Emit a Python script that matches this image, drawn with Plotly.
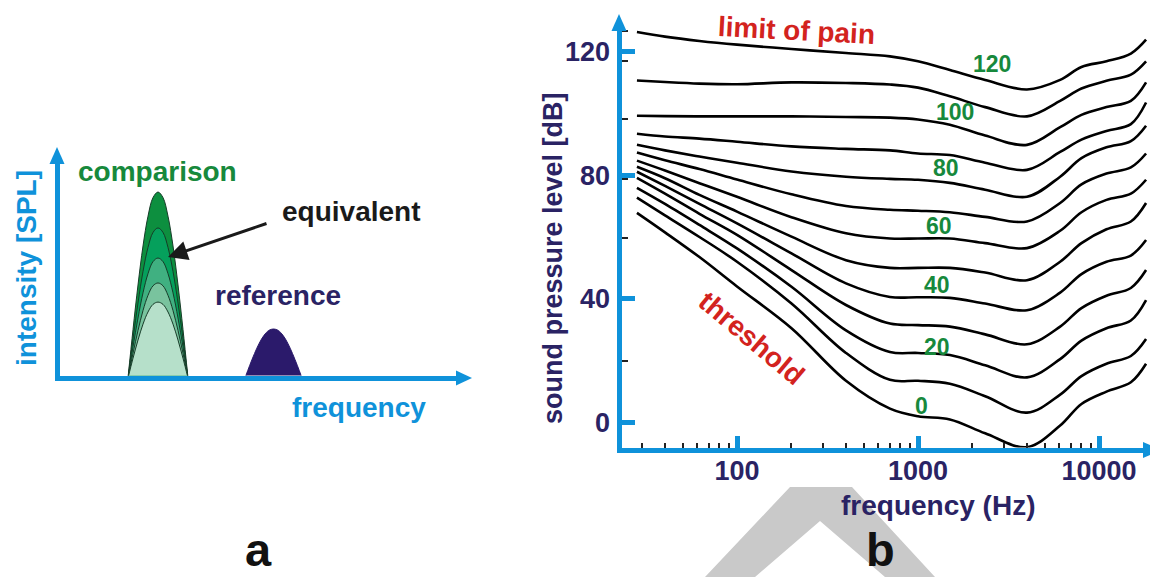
import math
import plotly.graph_objects as go

W, H = 1150, 577
FONT = "Liberation Sans, Arial, sans-serif"
BLUE = "#0f92da"
NAVY = "#2a2364"
GREEN = "#17893c"
RED = "#d3231e"

# ---------------- panel a data ----------------
bump_profile = [0, 0.26, 0.5, 0.71, 0.87, 0.97, 1.0, 0.97, 0.87, 0.71, 0.5, 0.26, 0]
comparison_span = [17.75, 32.75]
comparison_heights = [86.5, 69.8, 55.8, 44.2, 35.3]
comparison_colors = ["#0d8f3f", "#05a05c", "#40b081", "#79c39e", "#b6e0ca"]
reference_span = [47.0, 61.25]
reference_height = 22.8

# ---------------- panel b data ----------------
freq_hz = [28, 40, 62, 100, 200, 400, 700, 1000, 1500, 2350, 4000, 6100, 8000, 11000, 15000, 18200]
phon_120 = [126.3, 124.8, 123.4, 122.2, 120.8, 119.5, 118.4, 116.8, 114.0, 110.8, 107.7, 110.8, 115.0, 116.8, 119.3, 123.8]
phon_110 = [110.6, 110.1, 109.6, 109.4, 110.0, 109.8, 109.3, 108.3, 105.5, 102.0, 99.0, 104.0, 108.0, 110.5, 112.5, 116.8]
phon_100 = [99.2, 99.1, 99.0, 99.0, 99.0, 98.8, 98.6, 98.0, 96.3, 92.8, 89.8, 95.5, 99.5, 102.0, 104.0, 110.0]
phon_90 = [93.4, 92.5, 91.8, 90.8, 89.3, 88.5, 88.0, 87.0, 86.5, 84.0, 81.7, 87.5, 91.5, 94.3, 96.5, 103.5]
phon_80 = [89.8, 88.0, 86.0, 84.0, 81.2, 79.5, 78.8, 78.5, 77.5, 75.3, 73.0, 79.5, 85.5, 89.0, 91.0, 96.0]
phon_70 = [87.3, 84.8, 82.0, 78.6, 73.8, 70.0, 68.8, 68.5, 68.0, 66.5, 65.0, 71.0, 77.0, 80.5, 82.5, 87.0]
phon_60 = [84.7, 81.5, 77.4, 73.0, 66.4, 61.2, 59.5, 59.5, 59.5, 58.0, 56.4, 62.0, 68.0, 72.0, 74.0, 78.5]
phon_50 = [82.7, 79.0, 73.6, 68.2, 60.1, 52.5, 50.0, 50.0, 50.0, 48.5, 46.0, 52.0, 58.0, 62.5, 65.0, 71.0]
phon_40 = [81.1, 76.5, 70.7, 64.4, 54.7, 45.0, 40.6, 40.5, 40.3, 38.5, 36.3, 42.0, 48.0, 52.0, 54.0, 59.0]
phon_30 = [79.1, 74.0, 67.5, 60.7, 49.3, 38.0, 32.0, 31.5, 31.0, 28.5, 25.3, 31.0, 37.0, 41.0, 43.5, 49.3]
phon_20 = [75.9, 70.7, 63.9, 56.3, 43.9, 29.8, 22.8, 22.5, 21.8, 18.5, 14.6, 20.5, 26.5, 30.5, 33.0, 39.6]
phon_10 = [72.7, 67.0, 60.0, 52.0, 38.5, 22.5, 13.8, 13.5, 12.5, 8.5, 3.2, 9.0, 15.0, 19.0, 21.5, 27.0]
phon_0 = [67.8, 61.5, 53.5, 44.0, 30.5, 13.5, 4.5, 2.0, 1.0, -3.5, -8.0, -1.0, 6.0, 10.0, 13.0, 19.0]
curves = [phon_120, phon_110, phon_100, phon_90, phon_80, phon_70, phon_60,
          phon_50, phon_40, phon_30, phon_20, phon_10, phon_0]

label_text = ["120", "100", "80", "60", "40", "20", "0"]
label_freq = [2550, 1600, 1420, 1300, 1270, 1270, 1050]
label_db = [115.8, 100.5, 82.4, 63.5, 44.5, 24.3, 5.2]

y_tick_vals = [0, 40, 80, 120]
y_scan_ticks = [126.5, 117.0, 98.3, 78.8, 59.7, 19.8]
x_tick_vals = [100, 1000, 10000]
x_minor_vals = [30, 40, 50, 60, 70, 80, 90, 200, 300, 400, 500, 600, 700, 800, 900,
                2000, 3000, 4000, 5000, 6000, 7000, 8000, 9000]


def px(x):
    return x / W


def py(y):
    return 1 - y / H


fig = go.Figure()

# panel a bumps
n = len(bump_profile) - 1
xs_c = [comparison_span[0] + i * (comparison_span[1] - comparison_span[0]) / n for i in range(n + 1)]
for h, c in zip(comparison_heights, comparison_colors):
    fig.add_trace(go.Scatter(
        x=xs_c, y=[p * h for p in bump_profile], mode="lines", fill="toself",
        fillcolor=c, line=dict(color="#173b28", width=1, shape="spline"),
        hoverinfo="skip", showlegend=False, xaxis="x", yaxis="y"))
xs_r = [reference_span[0] + i * (reference_span[1] - reference_span[0]) / n for i in range(n + 1)]
fig.add_trace(go.Scatter(
    x=xs_r, y=[p * reference_height for p in bump_profile], mode="lines", fill="toself",
    fillcolor="#2b1a6b", line=dict(color="#2b1a6b", width=1, shape="spline"),
    hoverinfo="skip", showlegend=False, xaxis="x", yaxis="y"))

# panel b curves
for cv in curves:
    fig.add_trace(go.Scatter(
        x=freq_hz, y=cv, mode="lines",
        line=dict(color="black", width=2.6, shape="spline", smoothing=1.0),
        hoverinfo="skip", showlegend=False, xaxis="x2", yaxis="y2"))

# ---- axis geometry (pixel mapping) ----
# panel b: x_px = 737 + 181*log10(f/100); y_px = 422.5 - 3.092*dB
bx0, bx1 = 621.5, 1150.0
by0, by1 = 447.5, 28.0
xr = [2 + (bx0 - 737) / 181, 2 + (bx1 - 737) / 181]
yr = [(422.5 - by0) / 3.092, (422.5 - by1) / 3.092]
# panel a: x_px = 57 + 4*x ; y_px = 378 - 2.15*y
ax0, ax1 = 59.5, 457.0
ay0, ay1 = 375.5, 163.0
axr = [(ax0 - 57) / 4, (ax1 - 57) / 4]
ayr = [(378 - ay0) / 2.15, (378 - ay1) / 2.15]

annotations = []


def text(t, x, y, size, color, angle=0, xanchor="center", pad=1):
    annotations.append(dict(
        text=t, x=px(x), y=py(y), xref="paper", yref="paper", showarrow=False,
        xanchor=xanchor, yanchor="middle", textangle=angle, borderpad=pad,
        font=dict(family=FONT, size=size, color=color, weight="bold")))


# panel a texts
text("intensity [SPL]", 26, 268, 28, BLUE, angle=-90)
text("comparison", 157, 172, 28, GREEN)
text("equivalent", 351, 211, 28, "#1a1a1a")
text("reference", 278, 295, 28, NAVY)
text("frequency", 359, 407, 28, BLUE)
annotations.append(dict(
    x=px(168), y=py(257), xref="paper", yref="paper", text="", showarrow=True,
    ax=100, ay=-34, arrowhead=2, arrowsize=1.3, arrowwidth=3, arrowcolor="#1a1a1a",
    standoff=0))

# panel b texts
text("sound pressure level [dB]", 553, 258, 27, NAVY, angle=-90)
text("frequency (Hz)", 938, 505, 28, NAVY, pad=0)
text("limit of pain", 796, 30, 28, RED, angle=3)
text("threshold", 752, 338, 28, RED, angle=40)
for t, f, d in zip(label_text, label_freq, label_db):
    annotations.append(dict(
        text=t, x=math.log10(f), y=d, xref="x2", yref="y2", showarrow=False,
        xanchor="center", yanchor="middle",
        font=dict(family=FONT, size=23, color=GREEN, weight="bold")))

text("a", 258, 549, 47, "#111111", pad=0)
text("b", 880, 549, 47, "#111111", pad=0)


def tri(p1, p2, p3, color):
    path = "M {} {} L {} {} L {} {} Z".format(px(p1[0]), py(p1[1]), px(p2[0]), py(p2[1]),
                                              px(p3[0]), py(p3[1]))
    return dict(type="path", path=path, xref="paper", yref="paper",
                fillcolor=color, line=dict(width=0), layer="above")


shapes = [
    # grey watermark chevron
    dict(type="path", xref="paper", yref="paper", layer="below",
         path="M {} {} L {} {} L {} {} L {} {} L {} {} L {} {} L {} {} Z".format(
             px(705), py(577), px(790), py(487), px(852), py(487), px(935), py(577),
             px(885), py(577), px(820), py(521), px(755), py(577)),
         fillcolor="#c9c9c9", line=dict(width=0)),
    # panel a arrowheads
    tri((57, 147), (49.5, 164), (64.5, 164), BLUE),
    tri((472, 378), (456, 370.5), (456, 385.5), BLUE),
    # panel b arrowheads
    tri((619, 14), (611.5, 31), (626.5, 31), BLUE),
    tri((1162, 450), (1143, 442), (1143, 458), BLUE),
]

common = dict(showgrid=False, zeroline=False, fixedrange=True)
fig.update_layout(
    width=W, height=H, autosize=False,
    margin=dict(l=0, r=0, t=0, b=0, pad=0),
    paper_bgcolor="white", plot_bgcolor="rgba(0,0,0,0)",
    showlegend=False,
    xaxis=dict(domain=[px(ax0), px(ax1)], range=axr, anchor="y",
               showline=True, linecolor=BLUE, linewidth=5, showticklabels=False,
               ticks="", **common),
    yaxis=dict(domain=[py(ay0), py(ay1)], range=ayr, anchor="x",
               showline=True, linecolor=BLUE, linewidth=5, showticklabels=False,
               ticks="", **common),
    xaxis2=dict(domain=[px(bx0), px(bx1)], type="log", range=xr, anchor="y2",
                showline=True, linecolor=BLUE, linewidth=5,
                tickmode="array", tickvals=x_tick_vals, ticktext=[str(v) for v in x_tick_vals],
                ticks="inside", ticklen=12, tickwidth=5, tickcolor=BLUE,
                tickfont=dict(family=FONT, size=27, color=NAVY, weight="bold"),
                ticklabelstandoff=-5,
                minor=dict(tickmode="array", tickvals=x_minor_vals, ticks="inside",
                           ticklen=5, tickwidth=1.5, tickcolor="#222222"),
                **common),
    yaxis2=dict(domain=[py(by0), py(by1)], range=yr, anchor="x2",
                showline=True, linecolor=BLUE, linewidth=5,
                tickmode="array", tickvals=y_tick_vals, ticktext=[str(v) for v in y_tick_vals],
                ticks="inside", ticklen=13, tickwidth=5, tickcolor=BLUE,
                tickfont=dict(family=FONT, size=27, color=NAVY, weight="bold"),
                ticklabelstandoff=1,
                minor=dict(tickmode="array", tickvals=y_scan_ticks, ticks="inside",
                           ticklen=6, tickwidth=1.5, tickcolor="#222222"),
                **common),
    annotations=annotations,
    shapes=shapes,
)

fig.write_html("out.html")
